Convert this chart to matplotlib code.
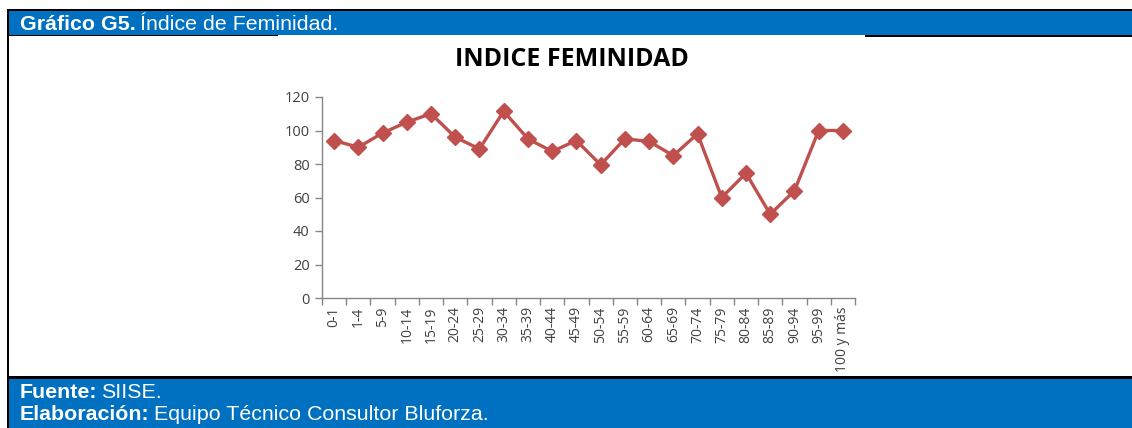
import matplotlib
matplotlib.use("Agg")
import matplotlib.pyplot as plt
from matplotlib.patches import Rectangle

W, H = 1132, 428

categories = ["0-1", "1-4", "5-9", "10-14", "15-19", "20-24", "25-29", "30-34",
              "35-39", "40-44", "45-49", "50-54", "55-59", "60-64", "65-69",
              "70-74", "75-79", "80-84", "85-89", "90-94", "95-99", "100 y más"]
indice = [94, 90, 98.5, 105, 110, 96, 89, 111.5, 95, 87.5, 94, 79.5, 95, 93.5,
          85, 98, 60, 74.5, 50, 64, 100, 100]
yticks = [0, 20, 40, 60, 80, 100, 120]

BLUE = "#0070C0"
RED = "#C0504D"
GREY_TXT = "#404040"
AXIS = "#868686"


def rect(x0, y0, x1, y1, color):
    # pixel coords (top-left origin) -> figure fraction
    fig.add_artist(Rectangle((x0 / W, 1 - y1 / H), (x1 - x0) / W, (y1 - y0) / H,
                             transform=fig.transFigure, facecolor=color,
                             edgecolor="none", zorder=0))


fig = plt.figure(figsize=(W / 100, H / 100), dpi=100)
fig.patch.set_facecolor("white")

# frame / bands
rect(7, 9, W, 11, "black")
rect(8, 11, W, 35, BLUE)
rect(7, 35, 278, 36, "black")
rect(865, 35, W, 37, "black")
rect(7, 9, 9, H, "black")
rect(7, 376, W, 379, "black")
rect(9, 379, W, H, BLUE)

renderer = fig.canvas.get_renderer()


def two_part(x, y, bold, normal, size):
    t1 = fig.text(x / W, 1 - y / H, bold, fontsize=size, fontweight="bold",
                  color="white", family="Liberation Sans", va="baseline")
    bb = t1.get_window_extent(renderer)
    fig.text((bb.x1 + 4) / W, 1 - y / H, normal, fontsize=size, color="white",
             family="Liberation Sans", va="baseline")


two_part(20, 30, "Gráfico G5.", "Índice de Feminidad.", 15.4)
two_part(20, 398, "Fuente:", "SIISE.", 15.4)
two_part(20, 420, "Elaboración:", "Equipo Técnico Consultor Bluforza.", 15.4)

# chart
ax = fig.add_axes([322 / W, 1 - 298 / H, (855 - 322) / W, (298 - 97) / H])
x = list(range(len(categories)))
ax.plot(x, indice, color=RED, linewidth=2.4, marker="D", markersize=8,
        markerfacecolor=RED, markeredgecolor=RED, clip_on=False)

ax.set_xlim(-0.5, len(categories) - 0.5)
ax.set_ylim(0, 120)
ax.set_yticks(yticks)
ax.set_yticklabels([str(v) for v in yticks], fontsize=10.5, color=GREY_TXT,
                   family="Open Sans")
ax.set_xticks(x)
ax.set_xticklabels(categories, rotation=90, fontsize=10, color=GREY_TXT,
                   family="Open Sans")
ax.set_xticks([i - 0.5 for i in range(len(categories) + 1)], minor=True)
ax.tick_params(axis="x", which="major", length=0, pad=6)
ax.tick_params(axis="x", which="minor", length=5, color=AXIS, width=1)
ax.tick_params(axis="y", length=5, color=AXIS, width=1, pad=4)

for s in ["top", "right"]:
    ax.spines[s].set_visible(False)
for s in ["left", "bottom"]:
    ax.spines[s].set_color(AXIS)
    ax.spines[s].set_linewidth(1)

fig.text(572 / W, 1 - 60 / H, "INDICE FEMINIDAD", fontsize=18, fontweight="bold",
         family="Open Sans", ha="center", va="center", color="black")

fig.savefig("out.png", dpi=100)
